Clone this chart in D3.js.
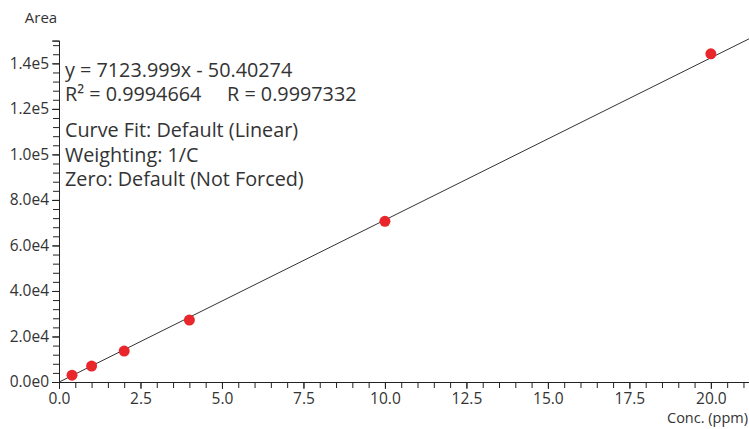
<!DOCTYPE html>
<html lang="en">
<head>
<meta charset="utf-8">
<title>Calibration Curve</title>
<script src="https://cdn.jsdelivr.net/npm/d3@7"></script>
<style>
  body { margin: 0; background: #fff; }
  svg text { font-family: "Open Sans", "Noto Sans", sans-serif; fill: #333; white-space: pre; }
</style>
</head>
<body>
<div id="chart"></div>
<script>
// calibration standards
var conc = [0.4, 1, 2, 4, 10, 20]
var area = [3000, 7000, 13600, 27200, 70600, 144200]
var slope = 7123.999
var intercept = -50.40274
var xTicks = [0, 2.5, 5, 7.5, 10, 12.5, 15, 17.5, 20]
var yTicks = [0, 20000, 40000, 60000, 80000, 100000, 120000, 140000]
var yLabels = ["0.0e0", "2.0e4", "4.0e4", "6.0e4", "8.0e4", "1.0e5", "1.2e5", "1.4e5"]
var notes = ["y = 7123.999x - 50.40274", "R\u00b2 = 0.9994664     R = 0.9997332",
             "Curve Fit: Default (Linear)", "Weighting: 1/C", "Zero: Default (Not Forced)"]

var width = 749, height = 429
var svg = d3.select("#chart").append("svg").attr("width", width).attr("height", height)

var x = d3.scaleLinear().domain([0, 21.17]).range([59, 749])
var y = d3.scaleLinear().domain([0, 150000]).range([382, 40.6])

// minor ticks first
svg.append("g").attr("transform", "translate(0,382)")
  .call(d3.axisBottom(x).tickValues(d3.range(0, 21.1, 0.5)).tickSize(6).tickFormat(""))
svg.append("g").attr("transform", "translate(59,0)")
  .call(d3.axisLeft(y).tickValues(d3.range(0, 150001, 4000)).tickSize(6).tickFormat(""))

var xAxis = svg.append("g").attr("transform", "translate(0,382)")
  .call(d3.axisBottom(x).tickValues(xTicks).tickSize(7).tickPadding(4).tickFormat(d3.format(".1f")))
var yAxis = svg.append("g").attr("transform", "translate(59,0)")
  .call(d3.axisLeft(y).tickValues(yTicks).tickSize(7).tickPadding(3).tickFormat(function(d, i){ return yLabels[i] }))

svg.selectAll(".domain").attr("stroke", "#222")
svg.selectAll(".tick line").attr("stroke", "#222")
svg.selectAll(".tick text").style("font-size", "15.5px").attr("fill", "#333")

// fit line
svg.append("line")
  .attr("x1", x(0)).attr("y1", y(intercept))
  .attr("x2", x(21.17)).attr("y2", y(slope * 21.17 + intercept))
  .attr("stroke", "#333").attr("stroke-width", 1)

svg.selectAll("circle")
  .data(conc)
  .enter()
  .append("circle")
  .attr("cx", function(d){ return x(d) })
  .attr("cy", function(d, i){ return y(area[i]) })
  .attr("r", 5.5)
  .attr("fill", "#e8262b")

svg.append("text").attr("x", 41).attr("y", 23).attr("text-anchor", "middle")
  .style("font-size", "15px").text("Area")
svg.append("text").attr("x", 748).attr("y", 423).attr("text-anchor", "end")
  .style("font-size", "14.5px").text("Conc. (ppm)")

var noteY = [77, 101, 137, 162, 186]
svg.selectAll(".note")
  .data(notes)
  .enter()
  .append("text")
  .attr("class", "note")
  .attr("x", 65)
  .attr("y", function(d, i){ return noteY[i] })
  .style("font-size", "19.8px")
  .text(function(d){ return d })
</script>
</body>
</html>
